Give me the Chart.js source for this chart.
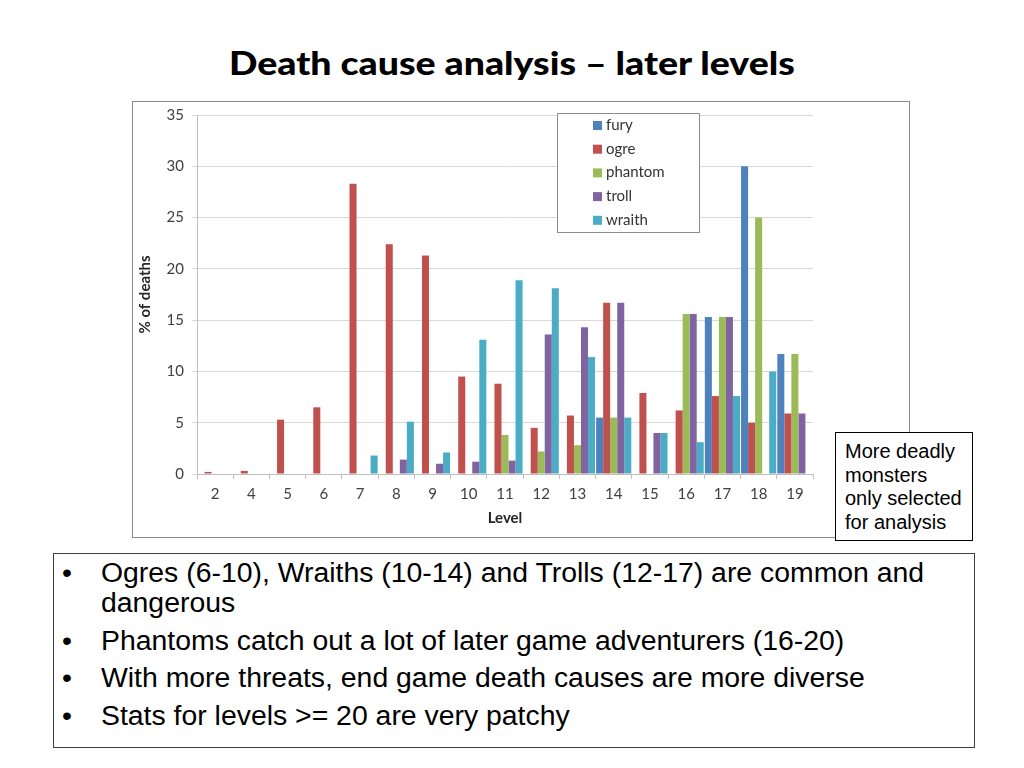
<!DOCTYPE html>
<html>
<head>
<meta charset="utf-8">
<script src="https://cdn.jsdelivr.net/npm/chart.js@4.4.1/dist/chart.umd.min.js"></script>
<style>
  html, body { margin:0; padding:0; background:#fff; width:1024px; height:768px; overflow:hidden; }
  #title { position:absolute; left:0; width:1024px; top:40px; text-align:center;
           font-family:"Lato", "DejaVu Sans", sans-serif; font-weight:900; font-size:33px; color:#000; line-height:44px;
           transform:scaleX(1.135); transform-origin:513px 0; }
  #frame { position:absolute; left:132px; top:101px; width:778px; height:437px; box-sizing:border-box;
           border:1px solid #8c8c8c; background:#fff; }
  #chart { position:absolute; left:0; top:0; }
  #note { position:absolute; left:835px; top:432px; width:138px; height:109px; box-sizing:border-box;
          border:1px solid #000; background:#fff; padding:7px 0 0 9px; white-space:nowrap;
          font-family:"Liberation Sans", Arial, sans-serif; font-size:20px; line-height:23.5px; color:#000; }
  #bullets { position:absolute; left:53px; top:553px; width:922px; height:195px; box-sizing:border-box;
             border:1px solid #404040; background:#fff; padding:3px 0 0 0;
             font-family:"Liberation Sans", Arial, sans-serif; font-size:28.4px; line-height:30px; color:#000; }
  .b { position:relative; padding-left:47px; white-space:nowrap; margin-bottom:7.5px; }
  .b::before { content:"•"; position:absolute; left:8px; top:0; }
</style>
</head>
<body>
<div id="title">Death cause analysis – later levels</div>
<div id="frame"><canvas id="chart" width="776" height="435"></canvas></div>
<div id="note">More deadly<br>monsters<br>only selected<br>for analysis</div>
<div id="bullets">
  <div class="b">Ogres (6-10), Wraiths (10-14) and Trolls (12-17) are common and<br>dangerous</div>
  <div class="b">Phantoms catch out a lot of later game adventurers (16-20)</div>
  <div class="b">With more threats, end game death causes are more diverse</div>
  <div class="b">Stats for levels &gt;= 20 are very patchy</div>
</div>
<script>
const levels  = ['2','4','5','6','7','8','9','10','11','12','13','14','15','16','17','18','19'];
const fury    = [0, 0, 0, 0, 0, 0, 0, 0, 0, 0, 0, 5.5, 0, 0, 15.3, 30, 11.7];
const ogre    = [0.2, 0.3, 5.3, 6.5, 28.3, 22.4, 21.3, 9.5, 8.8, 4.5, 5.7, 16.7, 7.9, 6.2, 7.6, 5.0, 5.9];
const phantom = [0, 0, 0, 0, 0, 0, 0, 0, 3.8, 2.2, 2.8, 5.5, 0, 15.6, 15.3, 25, 11.7];
const troll   = [0, 0, 0, 0, 0, 1.4, 1.0, 1.2, 1.3, 13.6, 14.3, 16.7, 4.0, 15.6, 15.3, 0, 5.9];
const wraith  = [0, 0, 0, 0, 1.8, 5.1, 2.1, 13.1, 18.9, 18.1, 11.4, 5.5, 4.0, 3.1, 7.6, 10, 0];
const yTicks  = [0, 5, 10, 15, 20, 25, 30, 35];

const colors = { fury:'#4F81BD', ogre:'#C0504D', phantom:'#9BBB59', troll:'#8064A2', wraith:'#4BACC6' };
const axisFont = { family:'Lato, "Open Sans", sans-serif', size:15 };

const legendBox = {
  id:'legendBox',
  afterDraw(chart) {
    const ctx = chart.ctx;
    const x = 424.5, y = 11.5, w = 142, h = 119;
    ctx.save();
    ctx.fillStyle = '#fff';
    ctx.fillRect(x, y, w, h);
    ctx.strokeStyle = '#8c8c8c';
    ctx.lineWidth = 1;
    ctx.strokeRect(x, y, w, h);
    ctx.font = '15px Lato, "Open Sans", sans-serif';
    ctx.textBaseline = 'middle';
    chart.data.datasets.forEach((ds, i) => {
      const cy = 23 + i * 23.7;
      ctx.fillStyle = ds.backgroundColor;
      ctx.fillRect(460, cy - 4, 9, 9);
      ctx.fillStyle = '#333';
      ctx.fillText(ds.label, 473, cy);
    });
    ctx.restore();
  }
};

new Chart(document.getElementById('chart'), {
  type:'bar',
  data:{
    labels: levels,
    datasets:[
      { label:'fury', data:fury, backgroundColor:colors.fury },
      { label:'ogre', data:ogre, backgroundColor:colors.ogre },
      { label:'phantom', data:phantom, backgroundColor:colors.phantom },
      { label:'troll', data:troll, backgroundColor:colors.troll },
      { label:'wraith', data:wraith, backgroundColor:colors.wraith }
    ]
  },
  options:{
    responsive:false,
    animation:false,
    layout:{ padding:{ left:0, top:13, right:96, bottom:0 } },
    datasets:{ bar:{ categoryPercentage:0.97, barPercentage:1.0, borderWidth:0 } },
    plugins:{ legend:{ display:false }, tooltip:{ enabled:false } },
    scales:{
      x:{
        offset:true,
        grid:{ offset:true, drawOnChartArea:false, drawTicks:true, tickLength:5, color:'#bfbfbf' },
        border:{ display:true, color:'#bfbfbf' },
        ticks:{ font:axisFont, color:'#404040', padding:6, maxRotation:0, autoSkip:false },
        title:{ display:true, text:'Level', font:{ family:'Lato, "Open Sans", sans-serif', size:15, weight:'bold' }, color:'#262626', padding:{ top:0, bottom:10 } },
        afterFit(s){ s.height = 63; s.paddingLeft = 0; s.paddingRight = 0; }
      },
      y:{
        min:0, max:35,
        afterBuildTicks(s){ s.ticks = yTicks.map(v => ({ value:v })); },
        grid:{ color:'#d9d9d9', tickLength:5, drawTicks:true },
        border:{ display:true, color:'#bfbfbf' },
        ticks:{ font:axisFont, color:'#404040', padding:8 },
        title:{ display:true, text:'% of deaths', font:{ family:'Lato, "Open Sans", sans-serif', size:15, weight:'bold' }, color:'#262626', padding:{ top:3, bottom:0 } },
        afterFit(s){ s.width = 64; s.paddingTop = 0; s.paddingBottom = 0; }
      }
    }
  },
  plugins:[legendBox]
});
</script>
</body>
</html>
